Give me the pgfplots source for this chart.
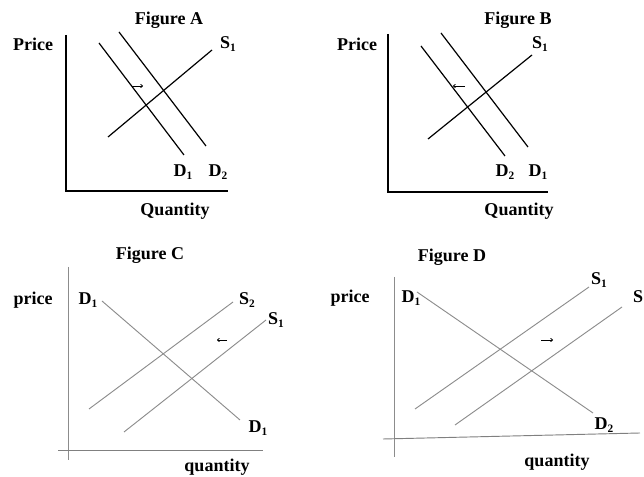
\documentclass[border=0pt]{standalone}
\usepackage{pgfplots}
\pgfplotsset{compat=1.18}
\usepackage{fontspec}
\setmainfont{Liberation Serif}
\usetikzlibrary{arrows.meta}
\definecolor{lg}{HTML}{8C8C8C}
\newcommand{\lab}[2]{#1\raisebox{-0.35ex}{\fontsize{8.5}{8.5}\selectfont #2}}
\tikzset{t/.style={font=\fontsize{13.5}{16}\selectfont\bfseries, inner sep=0pt}}
\begin{document}
\begin{tikzpicture}
\begin{axis}[
  width=483pt, height=357.75pt, scale only axis,
  xmin=0, xmax=644, ymin=0, ymax=477, y dir=reverse,
  hide axis, clip=false,
]
% ---------- Figure A ----------
\addplot[black, line width=0.9pt] coordinates {(66,35) (66,191) (228,191)};
\addplot[black, line width=0.9pt] coordinates {(99,43) (184,155)};   % D1
\addplot[black, line width=0.9pt] coordinates {(119,32) (206,146)};  % D2
\addplot[black, line width=0.9pt] coordinates {(108,137) (212,50)};  % S1
\addplot[black, line width=0.6pt, -{To[length=2pt,width=3pt]}] coordinates {(132,86) (143,86)};
\node[t] at (axis cs:169,20) {Figure A};
\node[t] at (axis cs:33,44) {Price};
\node[t] at (axis cs:228,44) {\lab{S}{1}};
\node[t] at (axis cs:183,172) {\lab{D}{1}};
\node[t] at (axis cs:218,172) {\lab{D}{2}};
\node[t] at (axis cs:175,211) {Quantity};
% ---------- Figure B ----------
\addplot[black, line width=0.9pt] coordinates {(388,34) (388,192) (548,192)};
\addplot[black, line width=0.9pt] coordinates {(421,46) (505,156)};  % D2
\addplot[black, line width=0.9pt] coordinates {(441,33) (528,147)};  % D1
\addplot[black, line width=0.9pt] coordinates {(428,139) (532,55)};  % S1
\addplot[black, line width=0.6pt, -{To[length=2pt,width=3pt]}] coordinates {(465,86) (453,86)};
\node[t] at (axis cs:518,20) {Figure B};
\node[t] at (axis cs:357,44) {Price};
\node[t] at (axis cs:540,44) {\lab{S}{1}};
\node[t] at (axis cs:505,172) {\lab{D}{2}};
\node[t] at (axis cs:538,172) {\lab{D}{1}};
\node[t] at (axis cs:519,211) {Quantity};
% ---------- Figure C ----------
\addplot[lg, line width=0.7pt] coordinates {(68,267) (68,460)};
\addplot[gray, line width=0.7pt] coordinates {(58,450) (263,450)};
\addplot[lg, line width=0.7pt] coordinates {(102,301) (240,420)};   % D1
\addplot[lg, line width=0.7pt] coordinates {(89,409) (233,302)};    % S2
\addplot[lg, line width=0.7pt] coordinates {(124,432) (266,320)};   % S1
\addplot[black, line width=0.6pt, -{To[length=2pt,width=3pt]}] coordinates {(227,340) (217,340)};
\node[t] at (axis cs:150,255) {Figure C};
\node[t] at (axis cs:33,300) {price};
\node[t] at (axis cs:88,300) {\lab{D}{1}};
\node[t] at (axis cs:247,300) {\lab{S}{2}};
\node[t] at (axis cs:276,320) {\lab{S}{1}};
\node[t] at (axis cs:258,428) {\lab{D}{1}};
\node[t] at (axis cs:217,467) {quantity};
% ---------- Figure D ----------
\addplot[lg, line width=0.7pt] coordinates {(394,277) (394,457)};
\addplot[gray, line width=0.7pt] coordinates {(383,439) (640,433)};
\addplot[lg, line width=0.7pt] coordinates {(417,292) (593,413)};   % D
\addplot[lg, line width=0.7pt] coordinates {(415,409) (589,287)};   % S1
\addplot[lg, line width=0.7pt] coordinates {(455,425) (622,307)};   % S2
\addplot[black, line width=0.6pt, -{To[length=2pt,width=3pt]}] coordinates {(541,340) (553,340)};
\node[t] at (axis cs:452,257) {Figure D};
\node[t] at (axis cs:350,298) {price};
\node[t] at (axis cs:411,298) {\lab{D}{1}};
\node[t] at (axis cs:599,280) {\lab{S}{1}};
\node[t, anchor=east] at (axis cs:643.5,297) {S};
\node[t] at (axis cs:604,425) {\lab{D}{2}};
\node[t] at (axis cs:557,462) {quantity};
\end{axis}
\pgfresetboundingbox
\path (current axis.south west) rectangle (current axis.north east);
\end{tikzpicture}
\end{document}
